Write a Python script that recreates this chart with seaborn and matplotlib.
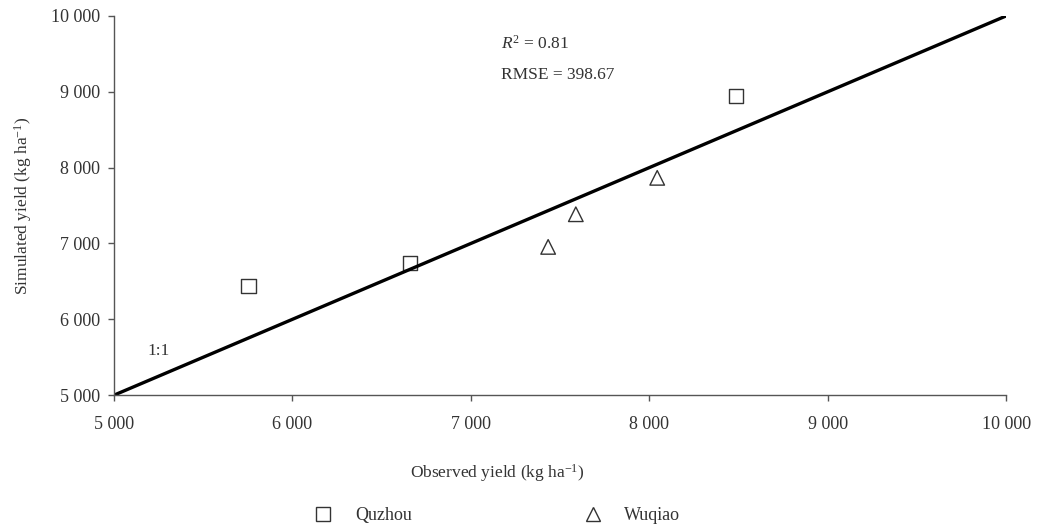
import matplotlib
matplotlib.use("Agg")
import matplotlib.pyplot as plt
import seaborn as sns
import pandas as pd
from matplotlib.ticker import FuncFormatter
from matplotlib.lines import Line2D

sns.set_theme(style="white")
plt.rcParams['font.family'] = ['Liberation Serif', 'DejaVu Serif']
plt.rcParams['mathtext.fontset'] = 'custom'
plt.rcParams['mathtext.rm'] = 'Liberation Serif'
plt.rcParams['mathtext.it'] = 'Liberation Serif:italic'
plt.rcParams['mathtext.bf'] = 'Liberation Serif:bold'

quzhou_obs = [5755, 6660, 8485]
quzhou_sim = [6440, 6740, 8945]
wuqiao_obs = [7433, 7588, 8044]
wuqiao_sim = [6955, 7385, 7865]
line_vals = [5000, 10000]
ticks = [5000, 6000, 7000, 8000, 9000, 10000]

df = pd.DataFrame({
    "obs": quzhou_obs + wuqiao_obs,
    "sim": quzhou_sim + wuqiao_sim,
    "site": ["Quzhou"] * 3 + ["Wuqiao"] * 3,
})

fig = plt.figure(figsize=(10.44, 5.27), dpi=100)
ax = fig.add_axes([0.109, 0.250, 0.855, 0.720])

sns.lineplot(x=line_vals, y=line_vals, ax=ax, color="black", linewidth=2.4)
sns.scatterplot(data=df, x="obs", y="sim", style="site", markers={"Quzhou": "s", "Wuqiao": "^"},
                s=110, facecolor="none", edgecolor="#333333", linewidth=1.0, ax=ax, legend=False)

ax.set_xlim(5000, 10000)
ax.set_ylim(5000, 10000)
ax.set_xticks(ticks)
ax.set_yticks(ticks)
fmt = FuncFormatter(lambda v, p: f"{int(v):,}".replace(",", " "))
ax.xaxis.set_major_formatter(fmt)
ax.yaxis.set_major_formatter(fmt)
for s in ["top", "right"]:
    ax.spines[s].set_visible(False)
for s in ["left", "bottom"]:
    ax.spines[s].set_color("#555555")
    ax.spines[s].set_linewidth(1.0)
ax.tick_params(axis="both", direction="out", length=4, width=1, color="#555555",
               labelsize=13, labelcolor="#333333", bottom=True, left=True)
ax.tick_params(axis="x", pad=11)
ax.tick_params(axis="y", pad=6)

ax.set_xlabel("Observed yield (kg ha$^{-1}$)", fontsize=12.5, color="#333333")
ax.set_ylabel("Simulated yield (kg ha$^{-1}$)", fontsize=12.5, color="#333333")
ax.xaxis.set_label_coords(0.43, -0.175)
ax.yaxis.set_label_coords(-0.089, 0.5)

ax.text(7170, 9630, "$R^2$ = 0.81", fontsize=12.5, color="#333333", va="center")
ax.text(7170, 9220, "RMSE = 398.67", fontsize=12.5, color="#333333", va="center")
ax.text(5190, 5580, "1:1", fontsize=12.5, color="#333333", va="center")

handles = [
    Line2D([], [], marker="s", linestyle="none", markersize=10, markerfacecolor="none",
           markeredgecolor="#333333", label="Quzhou"),
    Line2D([], [], marker="^", linestyle="none", markersize=10, markerfacecolor="none",
           markeredgecolor="#333333", label="Wuqiao"),
]
fig.legend(handles=handles, loc="center", bbox_to_anchor=(0.472, 0.022), ncol=2, frameon=False,
           fontsize=13, columnspacing=9, handletextpad=0.75, labelcolor="#333333")

fig.savefig("out.png", dpi=100)
